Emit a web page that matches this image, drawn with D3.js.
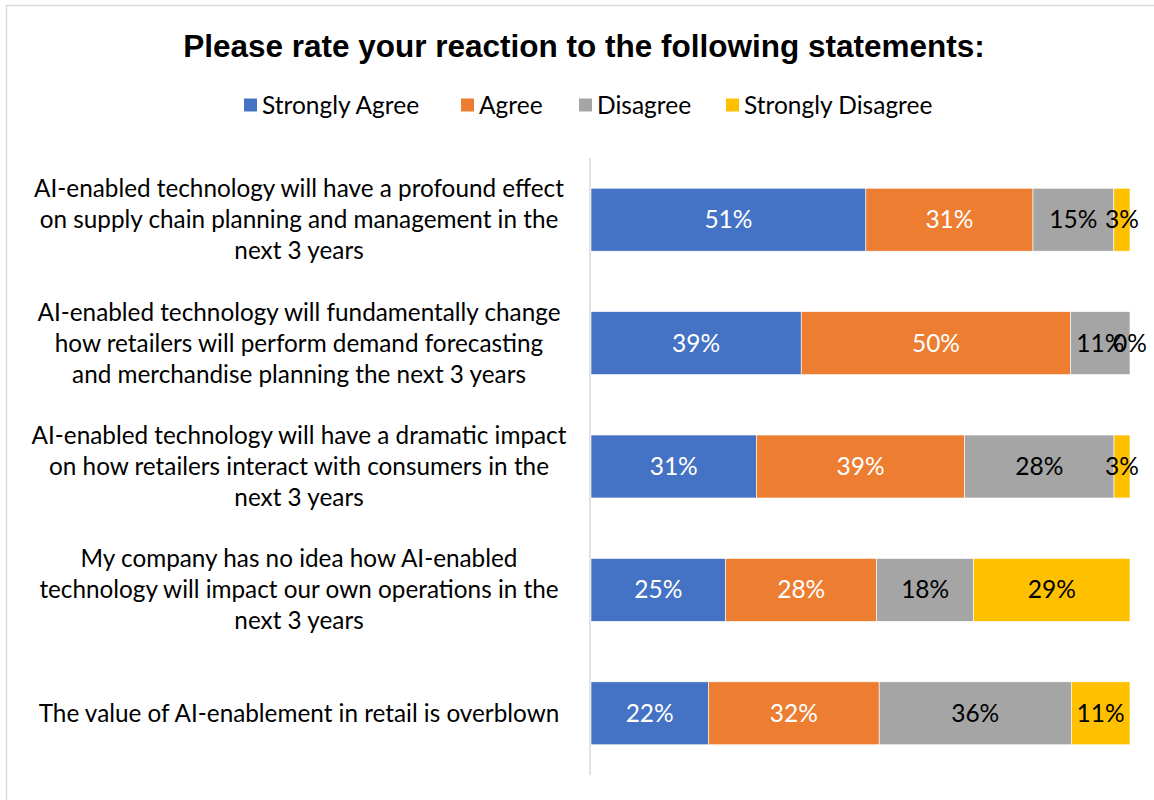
<!DOCTYPE html>
<html>
<head>
<meta charset="utf-8">
<script src="https://cdn.jsdelivr.net/npm/d3@7"></script>
<style>
  html, body { margin: 0; padding: 0; background: #fff; }
  svg { display: block; }
</style>
</head>
<body>
<svg id="chart" width="1154" height="800"></svg>
<script>
// Survey statements (line breaks mark how each label wraps)
const statements = [
  "AI-enabled technology will have a profound effect\non supply chain planning and management in the\nnext 3 years",
  "AI-enabled technology will fundamentally change\nhow retailers will perform demand forecasting\nand merchandise planning the next 3 years",
  "AI-enabled technology will have a dramatic impact\non how retailers interact with consumers in the\nnext 3 years",
  "My company has no idea how AI-enabled\ntechnology will impact our own operations in the\nnext 3 years",
  "The value of AI-enablement in retail is overblown"
];

const responseLevels = ["Strongly Agree", "Agree", "Disagree", "Strongly Disagree"];
const levelColors = ["#4472C4", "#ED7D31", "#A5A5A5", "#FFC000"];
const labelColors = ["#ffffff", "#ffffff", "#000000", "#000000"];

// Percent of respondents per statement, one array per response level
const stronglyAgree    = [51, 39, 31, 25, 22];
const agree            = [31, 50, 39, 28, 32];
const disagree         = [15, 11, 28, 18, 36];
const stronglyDisagree = [3, 0, 3, 29, 11];

const seriesValues = [stronglyAgree, agree, disagree, stronglyDisagree];

const titleText = "Please rate your reaction to the following statements:";

// ---- layout ----
const svg = d3.select("#chart");
const plot = { left: 591, right: 1130, top: 158, bottom: 775 };
const bodyFont = "Lato, 'Open Sans', sans-serif";

// chart frame
svg.append("rect")
  .attr("x", 6.5).attr("y", 5.5)
  .attr("width", 1160).attr("height", 820)
  .attr("fill", "#fff")
  .attr("stroke", "#d9d9d9").attr("stroke-width", 1.5);

// rows: each statement with its share of each response (100% stacked)
const rows = statements.map((s, i) => {
  const row = { statement: s };
  responseLevels.forEach((lvl, j) => { row[lvl] = seriesValues[j][i]; });
  return row;
});

const stack = d3.stack()
  .keys(responseLevels)
  .offset(d3.stackOffsetExpand);
const stacked = stack(rows);

const x = d3.scaleLinear().domain([0, 1]).range([plot.left, plot.right]);
const y = d3.scaleBand()
  .domain(statements)
  .range([plot.top, plot.bottom])
  .paddingInner(0.49)
  .paddingOuter(0.245);

// title
svg.append("text")
  .attr("x", 584).attr("y", 57)
  .attr("text-anchor", "middle")
  .attr("font-family", "'Liberation Sans', Arial, sans-serif")
  .attr("font-weight", "bold")
  .attr("font-size", 31.5)
  .attr("fill", "#000")
  .text(titleText);

// legend
const legendX = [244, 461, 579, 726];
const legend = svg.append("g");
responseLevels.forEach((lvl, j) => {
  const g = legend.append("g").attr("transform", `translate(${legendX[j]},105)`);
  g.append("rect")
    .attr("x", 0).attr("y", -6.5)
    .attr("width", 13).attr("height", 13)
    .attr("fill", levelColors[j]);
  g.append("text")
    .attr("x", 18).attr("y", 8.5)
    .attr("font-family", bodyFont)
    .attr("font-size", 24.5)
    .attr("fill", "#000")
    .text(lvl);
});

// category axis line
svg.append("line")
  .attr("x1", plot.left - 1).attr("x2", plot.left - 1)
  .attr("y1", plot.top).attr("y2", plot.bottom)
  .attr("stroke", "#d9d9d9").attr("stroke-width", 1.5);

// statement labels, centered in the left column
const labelCenter = 299;
const lineH = 31;
statements.forEach(s => {
  const lines = s.split("\n");
  const cy = y(s) + y.bandwidth() / 2;
  const t = svg.append("text")
    .attr("text-anchor", "middle")
    .attr("font-family", bodyFont)
    .attr("font-size", 24.3)
    .attr("fill", "#000");
  lines.forEach((ln, k) => {
    t.append("tspan")
      .attr("x", labelCenter)
      .attr("y", cy + (k - (lines.length - 1) / 2) * lineH + 8.5)
      .text(ln);
  });
});

// bars
const layers = svg.append("g").selectAll("g")
  .data(stacked)
  .join("g")
  .attr("fill", (d, j) => levelColors[j]);

layers.selectAll("rect")
  .data(d => d.map(p => ({ p, key: d.key })))
  .join("rect")
  .attr("x", d => x(d.p[0]))
  .attr("y", d => y(d.p.data.statement))
  .attr("width", d => x(d.p[1]) - x(d.p[0]))
  .attr("height", y.bandwidth())
  .attr("stroke", "#fff")
  .attr("stroke-width", 0.6);

// value labels
stacked.forEach((layer, j) => {
  svg.append("g").selectAll("text")
    .data(layer)
    .join("text")
    .attr("x", d => (x(d[0]) + x(d[1])) / 2)
    .attr("y", d => y(d.data.statement) + y.bandwidth() / 2 + 8.5)
    .attr("text-anchor", "middle")
    .attr("font-family", bodyFont)
    .attr("font-size", 24.5)
    .attr("fill", labelColors[j])
    .text(d => d.data[layer.key] + "%");
});
</script>
</body>
</html>
